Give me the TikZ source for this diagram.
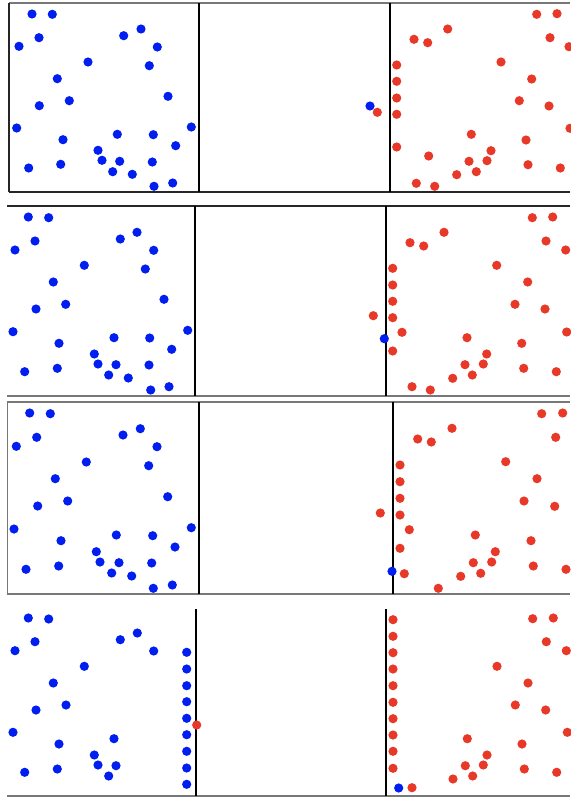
\documentclass[tikz,border=0pt]{standalone}
\definecolor{dotblue}{RGB}{0,30,240}
\definecolor{dotred}{RGB}{232,56,40}
\definecolor{framegray}{RGB}{120,120,120}
\tikzset{
  bdot/.style={fill=dotblue},
  rdot/.style={fill=dotred},
  wall/.style={black,line width=1.8pt},
  frameline/.style={framegray,line width=1.4pt},
  darkline/.style={black!85,line width=1.4pt}
}
\newcommand{\dotR}{4.6}
\begin{document}
\begin{tikzpicture}[x=1pt,y=-1pt]
\useasboundingbox[fill=white] (0,0) rectangle (570,797);
% ---------- panel 1 ----------
\draw[frameline] (9,3) -- (570,3);
\draw[darkline] (9,3) -- (9,192);
\draw[darkline] (9,192) -- (570,192);
\draw[wall] (199,3) -- (199,192);
\draw[wall] (390,3) -- (390,192);
\foreach \x/\y in {32/14,52.3/14.3,39/37.7,19/46.3,123.7/35.7,141/29,157.3/47,88/62,149.3/65.7,57.3/78.7,69.3/100.7,39.3/105.7,168/96.3,16.7/128,191.3/127,63/139.7,117.3/134.3,153.3/134.7,175.7/145.7,98/150.3,102/160.3,119.7/161.3,152.3/162,28.7/168,60.7/164.3,112.7/171.7,132.3/174.3,154/186.3,172.7/183,370/106}
  \fill[bdot] (\x,\y) circle (\dotR);
\foreach \x/\y in {536.7/14.3,557/13.7,447.7/29,414/39.3,427.7/42.7,550/37.7,569/46.7,396.7/65,501/62,531.7/79,396.7/81.3,396.7/98,519.3/100.7,549/106,377.3/112.3,396.7/114.3,570/128.3,471.3/134.3,526/140,396.7/147,428.7/156,491/150.7,469/161.3,487/160.7,528/164.7,476.3/171.7,560.3/168,456.7/174.7,416.3/183.3,434.7/186.3}
  \fill[rdot] (\x,\y) circle (\dotR);
% ---------- panel 2 ----------
\draw[darkline] (7,206) -- (570,206);
\draw[frameline] (7,396) -- (570,396);
\draw[wall] (195,206) -- (195,396);
\draw[wall] (385.7,206) -- (385.7,396);
\foreach \x/\y in {28.3/217,48.7/217.7,35/241,15/250,120.3/239,137/232.3,153.7/250.3,84.3/265.3,145.3/269,53.3/282,65.7/304.3,36/309,164/299.3,13/331.7,187.7/330.3,59/343.3,114/337.7,149.7/338,171.7/349.3,94.3/354,98/364,116/364.7,149/365,24.7/371.7,57.3/368.3,108.7/375,128.3/378,150.7/390,169/386.7}
  \fill[bdot] (\x,\y) circle (\dotR);
\foreach \x/\y in {532.3/217.7,552.7/217,444/232.3,410/242.7,423.7/246,546/241,565.7/250,392.7/268.3,496.7/265.3,527.7/282,392.7/285,392.7/301.3,515/304.3,545/309,373.3/315.7,392.7/317.7,402/332.3,566.7/332,467/337.7,521.7/343.3,392.7/351,486.7/354,465/364.7,483.3/364,523.7/368.3,472.3/375,556.3/371.7,452.7/378.3,412/386.7,430.3/390}
  \fill[rdot] (\x,\y) circle (\dotR);
\fill[bdot] (384.3,338.7) circle (\dotR);
% ---------- panel 3 ----------
\draw[frameline] (7.3,402) -- (570,402);
\draw[frameline] (7.3,402) -- (7.3,594);
\draw[frameline] (7.3,594) -- (570,594);
\draw[wall] (199,402) -- (199,594);
\draw[wall] (392.7,402) -- (392.7,594);
\foreach \x/\y in {29.7/413,50.3/413.7,36.7/437.3,16.3/446.3,123/435,140.3/428.7,157/446.7,86.3/462,148.7/465.7,55.3/478.7,67.7/501,37.7/506,167.7/496.7,14/529,191.3/527.7,61/540.7,116.3/535,152.7/535.7,175/547,96.3/551.7,100/562,119/562.7,151.7/563,26/569.3,58.7/566,111.7/573,131.7/576,153.3/588.3,172.3/585}
  \fill[bdot] (\x,\y) circle (\dotR);
\foreach \x/\y in {541.7/413.7,562.7/413,452/428.3,417.7/439,431.3/442,555.7/437.3,505.7/461.7,400/465,537/478.7,400/481.7,400/498.3,524/501,554.7/506.3,380.3/513,400/515,409.3/529.7,475.3/535,531/540.7,400/548.3,495.3/551.7,473.3/562.7,491.7/562,533.3/566,566/569.3,404.3/573.7,480.7/573.3,460.7/576.3,438.3/588.3}
  \fill[rdot] (\x,\y) circle (\dotR);
\fill[bdot] (392,571.3) circle (\dotR);
% ---------- panel 4 ----------
\draw[frameline] (7,796) -- (570,796);
\draw[wall] (195.7,609) -- (195.7,796);
\draw[wall] (386,609) -- (386,796);
\foreach \x/\y in {28.3/618,48.7/619,35/641.7,15/650.7,120.3/639.7,137.3/633,153.7/651,84.3/666.3,53.3/683,66/705,36/710,13/732.3,59/744,114/738.7,94.3/755,98/765,116/765.7,24.7/772.3,57.3/769,108.7/776}
  \fill[bdot] (\x,\y) circle (\dotR);
\foreach \y in {652.3,669,685.7,701.7,718.3,734.7,751.3,768,784.3}
  \fill[bdot] (186.7,\y) circle (\dotR);
\fill[bdot] (398.7,788) circle (\dotR);
\foreach \x/\y in {532.7/618.7,553.3/618,546.3/641.7,566.3/650.7,497/666.3,528/683,515.3/705,545.7/710,567.3/732.3,467.3/738.7,522/744,487/755,465.3/765.7,483.3/765,524.3/769,556.7/772.3,472.7/776,453/779,412/787.7,196.7/725}
  \fill[rdot] (\x,\y) circle (\dotR);
\foreach \y in {619.7,636.3,652.7,669,685.7,702.3,718.7,735,751.3,768.3}
  \fill[rdot] (393,\y) circle (\dotR);
\end{tikzpicture}
\end{document}
